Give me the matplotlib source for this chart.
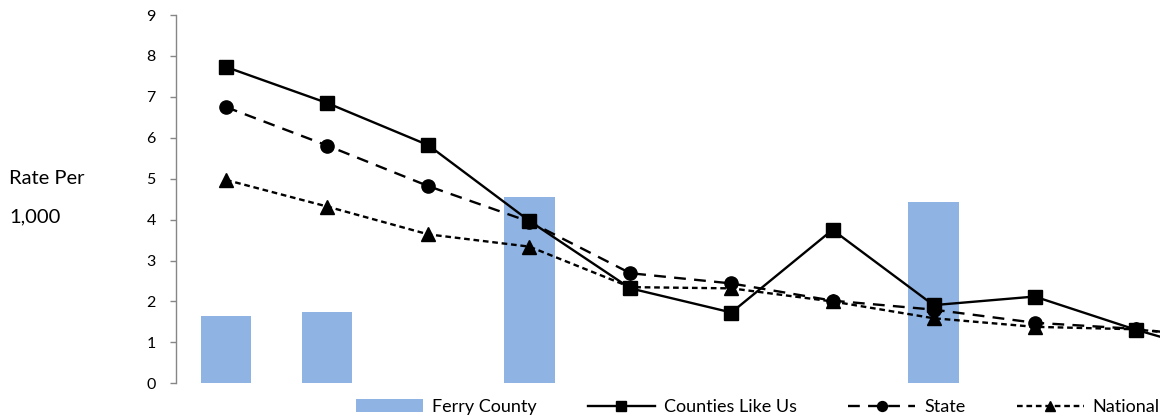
import matplotlib
matplotlib.use("Agg")
import matplotlib.pyplot as plt
import numpy as np

# Categories are unlabeled in the source chart; the last one is cut off at the right edge.
categories = [f"C{i}" for i in range(1, 12)]
ferry_county = [1.65, 1.75, np.nan, 4.56, np.nan, np.nan, np.nan, 4.43, np.nan, np.nan, np.nan]
counties_like_us = [7.73, 6.85, 5.82, 3.97, 2.32, 1.73, 3.75, 1.91, 2.12, 1.31, 0.60]
state = [6.75, 5.81, 4.82, 3.95, 2.69, 2.44, 2.02, 1.80, 1.48, 1.33, 1.05]
national = [4.97, 4.32, 3.64, 3.34, 2.35, 2.32, 2.00, 1.59, 1.38, 1.32, 1.05]
y_ticks = list(range(0, 10))

plt.rcParams["font.family"] = ["Lato", "DejaVu Sans"]

W, H = 1160, 419
fig = plt.figure(figsize=(W / 100, H / 100), dpi=100)
ax = fig.add_axes([176 / W, 1 - 383.3 / H, (W - 176) / W, (383.3 - 15) / H])

x = np.arange(len(categories))
fc = np.array(ferry_county, dtype=float)
has = ~np.isnan(fc)
ax.bar(x[has], fc[has], width=0.5, color="#8FB4E3", label="Ferry County", zorder=1)

ax.plot(x, counties_like_us, color="black", lw=1.7, marker="s", ms=10,
        label="Counties Like Us", zorder=3)
ax.plot(x, state, color="black", lw=1.7, ls=(0, (5, 3.5)), marker="o", ms=9.5,
        label="State", zorder=2)
ax.plot(x, national, color="black", lw=1.7, ls=(0, (2.4, 1.6)), marker="^", ms=9.5,
        label="National", zorder=2)

ax.set_xlim(-0.495, 9.24)
ax.set_ylim(0, 9)
ax.set_yticks(y_ticks)
ax.set_xticks([])
for side in ["top", "right", "bottom"]:
    ax.spines[side].set_visible(False)
ax.spines["left"].set_color("#868686")
ax.spines["left"].set_linewidth(1.0)
ax.tick_params(axis="y", colors="#868686", length=4.5, width=1.0, labelsize=11.5,
               labelcolor="black", pad=10)

fig.text(9 / W, 1 - 178 / H, "Rate Per", fontsize=14.5, va="center", ha="left")
fig.text(9 / W, 1 - 217 / H, "1,000", fontsize=14.5, va="center", ha="left")

handles, labels = ax.get_legend_handles_labels()
order = [labels.index(n) for n in ["Ferry County", "Counties Like Us", "State", "National"]]
leg = fig.legend([handles[i] for i in order], [labels[i] for i in order],
                 loc="center left", bbox_to_anchor=(356 / W, 1 - 407 / H), ncol=4,
                 frameon=False, fontsize=13, handlelength=3.7, handletextpad=0.5,
                 columnspacing=2.85, borderpad=0, borderaxespad=0, markerscale=0.75)

fig.savefig("out.png", dpi=100)
